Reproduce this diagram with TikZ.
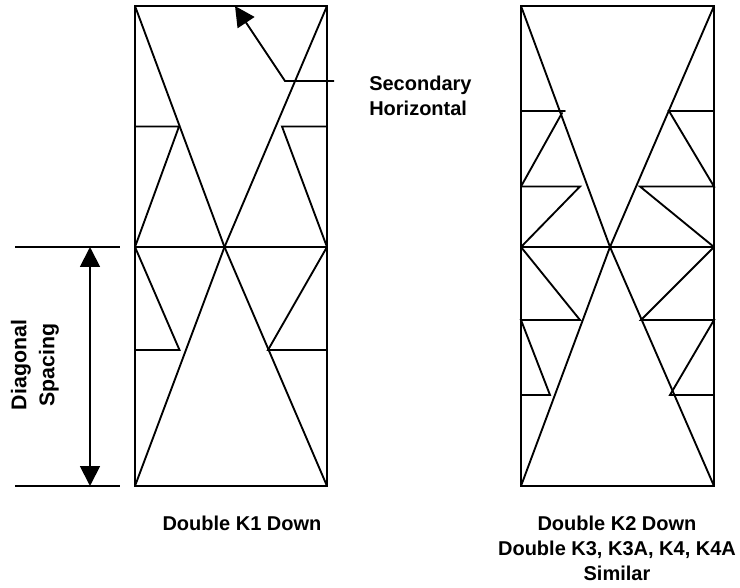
\documentclass[tikz,border=0pt]{standalone}
\usepackage{fontspec}
\setmainfont{Liberation Sans}
\usetikzlibrary{arrows.meta}
\tikzset{
  x=0.75pt,y=-0.75pt,
  frame/.style={line width=1.5pt,line cap=rect,line join=miter},
  member/.style={line width=1.4pt,line join=miter,line cap=round},
  leader/.style={line width=1.4pt,line join=miter},
  dim/.style={line width=1.4pt},
  head/.style={-{Triangle[length=15pt,width=15pt]}},
  twohead/.style={{Triangle[length=15pt,width=15pt]}-{Triangle[length=15pt,width=15pt]}},
  lab/.style={font=\bfseries\fontsize{15pt}{18.75pt}\selectfont,align=center,inner sep=0pt},
  vlab/.style={font=\bfseries\fontsize{16pt}{21pt}\selectfont,align=center,inner sep=0pt},
}
\begin{document}
\begin{tikzpicture}
\useasboundingbox (0,0) rectangle (740,588);
% left frame
\coordinate (LTL) at (135,6); \coordinate (LTR) at (327,6);
\coordinate (LBL) at (135,486); \coordinate (LBR) at (327,486);
\coordinate (LML) at (135,247); \coordinate (LMR) at (327,247);
\coordinate (LC) at (224.5,247);
\draw[frame] (LTL) -- (LTR) -- (LBR) -- (LBL) -- cycle;
\draw[member] (LML) -- (LMR);
\draw[member] (LTL) -- (LC) -- (LBR);
\draw[member] (LTR) -- (LC) -- (LBL);
\coordinate (La) at (135,126.5); \coordinate (Lb) at (179,126.5);
\coordinate (Lc) at (327,126.5); \coordinate (Ld) at (282,126.5);
\coordinate (Le) at (135,350); \coordinate (Lf) at (179.5,350);
\coordinate (Lg) at (327,350); \coordinate (Lh) at (268,350);
\draw[member] (La) -- (Lb) -- (LML);
\draw[member] (Lc) -- (Ld) -- (LMR);
\draw[member] (LML) -- (Lf) -- (Le);
\draw[member] (LMR) -- (Lh) -- (Lg);
% right frame
\coordinate (RTL) at (521,6); \coordinate (RTR) at (714,6);
\coordinate (RBL) at (521,486); \coordinate (RBR) at (714,486);
\coordinate (RML) at (521,247); \coordinate (RMR) at (714,247);
\coordinate (RC) at (610,247);
\draw[frame] (RTL) -- (RTR) -- (RBR) -- (RBL) -- cycle;
\draw[member] (RML) -- (RMR);
\draw[member] (RTL) -- (RC) -- (RBR);
\draw[member] (RTR) -- (RC) -- (RBL);
\coordinate (Ra1) at (521,111); \coordinate (Ra2) at (565,111); \coordinate (Ra3) at (521,186.5); \coordinate (Ra4) at (580,186.5); \coordinate (Ra5) at (562,113);
\draw[member] (Ra1) -- (Ra2);
\draw[member] (Ra3) -- (Ra5);
\draw[member] (Ra3) -- (Ra4) -- (RML);
\coordinate (Rb1) at (714,111); \coordinate (Rb2) at (669,111); \coordinate (Rb3) at (714,186.5); \coordinate (Rb4) at (640,186.5);
\draw[member] (Rb1) -- (Rb2) -- (Rb3) -- (Rb4) -- (RMR);
\coordinate (Rc1) at (521,320); \coordinate (Rc2) at (580,320); \coordinate (Rc3) at (550,395); \coordinate (Rc4) at (521,395);
\draw[member] (RML) -- (Rc2) -- (Rc1) -- (Rc3) -- (Rc4);
\coordinate (Rd1) at (714,320); \coordinate (Rd2) at (641,320); \coordinate (Rd3) at (670,395); \coordinate (Rd4) at (714,395);
\draw[member] (RMR) -- (Rd2) -- (Rd1) -- (Rd3) -- (Rd4);
% leader
\coordinate (S1) at (334,81); \coordinate (S2) at (285,81); \coordinate (S3) at (235,6);
\draw[leader,head] (S1) -- (S2) -- (S3);
% dimension
\coordinate (D1) at (15,247); \coordinate (D2) at (120,247);
\coordinate (D3) at (15,486); \coordinate (D4) at (120,486);
\coordinate (D5) at (90,247); \coordinate (D6) at (90,486);
\draw[dim] (D1) -- (D2);
\draw[dim] (D3) -- (D4);
\draw[dim,twohead] (D5) -- (D6);
% labels
\node[lab,align=left,anchor=west] (sec) at (369,96) {Secondary\\Horizontal};
\node[vlab,rotate=90] (dg) at (35,365) {Diagonal\\Spacing};
\node[lab] (k1) at (242,523) {Double K1 Down};
\node[lab,anchor=north] (k2) at (617,516) {Double K2 Down\\Double K3, K3A, K4, K4A\\Similar};
\end{tikzpicture}
\end{document}
